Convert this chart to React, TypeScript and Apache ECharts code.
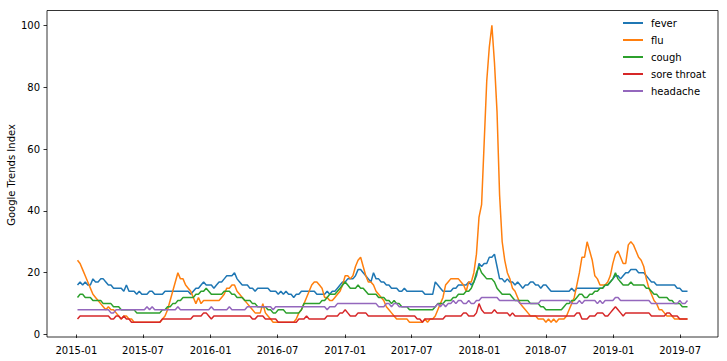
import React, { useEffect, useRef } from "react";
import * as echarts from "echarts";

// Weekly Google Trends index, first week starting 2015-01-04
const FIRST_WEEK = "2015-01-04";

const SERIES_NAMES = ["fever", "flu", "cough", "sore throat", "headache"];
const COLORS = ["#1f77b4", "#ff7f0e", "#2ca02c", "#d62728", "#9467bd"];

const FEVER = [
  16,17,16,17,16,16,18,17,17,18,
  18,17,16,16,15,15,15,15,14,16,
  14,14,14,13,14,13,13,13,14,14,
  13,13,13,13,14,14,14,14,14,14,
  14,14,14,14,13,14,15,15,16,17,
  16,16,16,15,16,17,17,18,19,19,
  19,20,18,17,16,16,16,15,15,14,
  15,15,15,15,15,14,14,14,13,14,
  13,14,13,13,12,13,13,14,14,14,
  14,14,14,13,13,13,13,14,13,14,
  14,15,16,17,17,18,18,18,19,21,
  21,20,19,18,17,20,18,18,17,17,
  16,16,15,15,15,14,14,15,14,14,
  14,14,14,14,14,13,13,13,13,17,
  16,15,14,14,14,14,15,15,16,16,
  16,16,17,16,17,19,23,22,23,23,
  25,25,26,22,18,18,17,18,17,17,
  16,17,16,15,16,16,17,17,16,16,
  15,16,16,15,14,14,14,14,14,14,
  14,14,15,14,15,15,15,15,15,15,
  15,15,15,15,15,16,16,17,18,19,
  19,18,19,20,20,21,21,21,20,20,
  20,19,18,17,17,16,16,16,16,16,
  16,16,16,15,15,14,14,14,
];

const FLU = [
  24,23,21,19,17,15,13,12,11,10,
  9,8,9,8,8,7,6,5,6,6,
  5,5,4,4,4,4,4,4,4,4,
  4,4,4,5,6,8,11,14,17,20,
  18,18,16,15,14,12,10,12,10,11,
  11,11,11,11,11,11,12,13,15,15,
  16,16,14,13,12,11,10,9,8,7,
  7,7,10,7,6,5,4,4,4,4,
  4,4,4,4,4,5,7,8,10,12,
  14,16,17,17,16,15,12,12,11,11,
  12,13,14,16,19,19,18,19,22,24,
  25,22,19,17,17,16,14,13,12,11,
  9,8,7,6,5,5,5,5,5,4,
  4,4,4,4,4,5,4,5,5,6,
  8,10,12,16,17,18,18,18,18,17,
  16,14,17,17,20,26,38,42,62,82,
  93,100,88,72,45,30,24,20,18,15,
  14,12,10,9,8,7,6,6,6,5,
  5,5,4,5,4,5,4,5,5,5,
  6,8,10,12,16,20,25,25,30,27,
  24,19,18,16,16,16,17,19,23,26,
  27,25,23,23,29,30,29,27,25,24,
  22,18,15,13,11,10,8,8,7,6,
  6,6,5,5,5,5,5,5,
];

const COUGH = [
  12,13,13,12,12,12,11,11,11,11,
  10,10,10,10,9,9,9,8,8,8,
  8,8,8,7,7,7,7,7,7,7,
  7,7,7,8,8,9,9,10,10,11,
  11,12,12,12,12,12,13,13,14,14,
  15,14,13,13,13,13,13,14,14,14,
  13,13,12,12,12,11,11,11,10,10,
  9,9,9,9,8,8,7,7,8,8,
  8,7,7,7,7,7,7,8,10,10,
  10,10,10,10,10,11,11,12,13,13,
  13,14,15,16,17,16,15,15,15,16,
  15,15,14,13,13,13,13,12,12,12,
  11,11,10,11,10,10,9,9,9,8,
  8,8,8,8,8,8,8,8,8,9,
  10,10,10,11,11,11,12,12,13,13,
  13,14,14,15,17,20,22,20,19,18,
  18,18,17,15,14,13,13,13,13,12,
  11,11,11,11,11,11,10,10,10,10,
  9,9,8,8,8,8,8,8,8,9,
  10,10,11,11,12,13,13,12,12,13,
  13,14,14,15,15,16,16,17,18,20,
  18,17,16,16,16,17,16,16,16,16,
  16,15,15,14,13,13,12,12,12,12,
  11,11,10,10,10,9,9,9,
];

const SORE_THROAT = [
  5,6,6,6,6,6,6,6,6,6,
  6,6,6,5,5,6,6,5,6,5,
  5,4,4,4,4,4,4,4,4,4,
  4,4,4,5,5,5,5,5,5,5,
  5,5,5,5,5,6,6,6,6,7,
  7,6,5,6,6,6,6,6,6,6,
  6,6,6,6,6,6,6,6,5,5,
  6,6,6,5,5,5,5,5,4,4,
  4,4,4,4,4,4,5,5,5,6,
  5,5,5,5,5,5,5,6,6,6,
  6,6,7,7,8,7,6,6,6,7,
  7,7,7,6,6,6,6,6,6,6,
  6,6,6,6,6,6,6,6,6,6,
  6,6,5,5,4,5,5,5,5,5,
  5,5,5,6,6,6,6,6,6,6,
  7,7,6,6,6,7,10,8,7,7,
  7,7,8,7,7,7,7,7,6,7,
  6,6,6,6,6,6,6,6,6,6,
  6,6,6,6,6,6,6,6,6,6,
  6,6,6,6,7,7,5,5,5,6,
  6,6,7,7,7,6,6,7,8,9,
  8,7,6,7,7,7,7,7,7,7,
  7,7,7,6,6,6,6,6,6,7,
  7,6,6,6,5,5,5,5,
];

const HEADACHE = [
  8,8,8,8,8,8,8,8,8,8,
  8,8,8,7,7,8,8,8,8,8,
  8,8,8,8,8,8,8,9,8,9,
  8,8,8,8,8,8,8,8,8,9,
  8,8,8,8,8,8,8,8,8,8,
  8,8,9,8,8,8,8,8,8,9,
  8,8,8,8,8,8,9,9,9,9,
  9,9,9,9,9,9,8,9,9,9,
  9,9,9,9,9,9,9,9,9,9,
  9,9,9,9,9,9,9,8,9,9,
  9,10,10,10,10,10,10,10,10,10,
  10,10,10,10,10,10,10,9,9,9,
  10,10,9,10,10,9,9,9,9,9,
  9,9,9,9,9,9,9,9,9,9,
  10,9,10,9,10,10,11,10,11,11,
  10,10,11,10,10,11,11,12,12,12,
  12,12,12,12,11,11,11,11,11,11,
  11,11,10,10,10,10,10,10,10,10,
  11,11,11,11,11,11,11,11,11,11,
  11,11,10,10,10,11,10,11,11,11,
  11,11,10,11,10,11,11,11,11,12,
  12,11,11,11,11,11,11,11,11,11,
  11,11,11,10,10,10,10,10,10,10,
  10,10,10,10,11,10,10,11,
];

const X_TICK_LABELS = [
  "2015-01", "2015-07", "2016-01", "2016-07", "2017-01",
  "2017-07", "2018-01", "2018-07", "2019-01", "2019-07",
];
const Y_TICKS = [0, 20, 40, 60, 80, 100];
const Y_LABEL = "Google Trends Index";

const VALUES = [FEVER, FLU, COUGH, SORE_THROAT, HEADACHE];

function parseMonth(s: string): number {
  const [y, m] = s.split("-").map(Number);
  return Date.UTC(y, m - 1, 1);
}

export default function App() {
  const ref = useRef<HTMLDivElement>(null);

  useEffect(() => {
    if (!ref.current) return;
    const chart = echarts.init(ref.current, undefined, { renderer: "svg" });
    const WEEK = 7 * 24 * 3600 * 1000;
    const start = Date.parse(FIRST_WEEK + "T00:00:00Z");
    const n = FEVER.length;
    const dates = Array.from({ length: n }, (_, i) => start + i * WEEK);
    const first = dates[0];
    const last = dates[n - 1];
    const pad = (last - first) * 0.05;
    const xTicks = X_TICK_LABELS.map(parseMonth);
    const labelOf = (v: number) => {
      const d = new Date(v);
      return d.getUTCFullYear() + "-" + String(d.getUTCMonth() + 1).padStart(2, "0");
    };
    const font = "DejaVu Sans";

    chart.setOption({
      animation: false,
      grid: {
        left: 47,
        right: 9,
        top: 10.5,
        bottom: 24,
        show: true,
        borderColor: "#000",
        borderWidth: 0.8,
        backgroundColor: "transparent",
      },
      legend: {
        orient: "vertical",
        left: 616,
        top: 13,
        padding: [4, 6, 4, 7],
        itemWidth: 20,
        itemHeight: 2,
        itemGap: 5,
        icon: "rect",
        borderWidth: 0,
        textStyle: {
          fontFamily: font,
          fontSize: 10,
          color: "#000",
          lineHeight: 12,
          padding: [0, 0, 0, 3],
        },
        data: SERIES_NAMES,
      },
      xAxis: {
        type: "value",
        min: first - pad,
        max: last + pad,
        axisLine: { show: false },
        splitLine: { show: false },
        axisTick: {
          show: true,
          length: 3.5,
          customValues: xTicks,
          lineStyle: { color: "#000", width: 0.8 },
        },
        axisLabel: {
          customValues: xTicks,
          formatter: (v: number) => labelOf(v),
          fontFamily: font,
          fontSize: 10,
          color: "#000",
          margin: 8,
        },
      },
      yAxis: {
        type: "value",
        min: -0.8,
        max: 104.8,
        axisLine: { show: false },
        splitLine: { show: false },
        axisTick: {
          show: true,
          length: 3.5,
          customValues: Y_TICKS,
          lineStyle: { color: "#000", width: 0.8 },
        },
        axisLabel: {
          customValues: Y_TICKS,
          fontFamily: font,
          fontSize: 10,
          color: "#000",
          margin: 7,
        },
      },
      graphic: [
        {
          type: "text",
          x: 11,
          y: 175,
          rotation: Math.PI / 2,
          style: {
            text: Y_LABEL,
            font: "10px 'DejaVu Sans'",
            fill: "#000",
            align: "center",
            verticalAlign: "middle",
            textAlign: "center",
            textVerticalAlign: "middle",
          },
        },
      ],
      series: SERIES_NAMES.map((name, k) => ({
        name,
        type: "line",
        showSymbol: false,
        symbol: "none",
        data: VALUES[k].map((v, i) => [dates[i], v]),
        lineStyle: { color: COLORS[k], width: 1.5 },
        itemStyle: { color: COLORS[k] },
      })),
    });

    return () => chart.dispose();
  }, []);

  return (
    <div
      ref={ref}
      style={{ position: "fixed", left: 0, top: 0, width: 727, height: 361, background: "#fff" }}
    />
  );
}
